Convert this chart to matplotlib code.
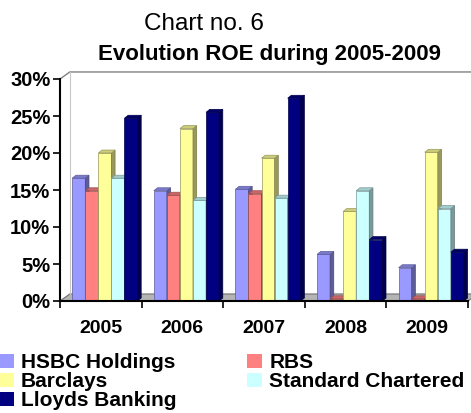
import matplotlib.pyplot as plt
from matplotlib.patches import Polygon, Patch
import matplotlib.colors as mcolors
import numpy as np

# chart data (ROE)
years = ['2005', '2006', '2007', '2008', '2009']
banks = ['HSBC Holdings', 'RBS', 'Barclays', 'Standard Chartered', 'Lloyds Banking']
hsbc = [0.166, 0.149, 0.151, 0.063, 0.045]
rbs = [0.149, 0.143, 0.145, 0.003, 0.003]
barclays = [0.200, 0.233, 0.193, 0.121, 0.201]
stanchart = [0.166, 0.136, 0.139, 0.149, 0.125]
lloyds = [0.247, 0.255, 0.274, 0.083, 0.066]
colors = ['#9999FF', '#FF8080', '#FFFF99', '#CCFFFF', '#000080']

series = [hsbc, rbs, barclays, stanchart, lloyds]

plt.rcParams['font.family'] = ['Liberation Sans', 'DejaVu Sans']

fig = plt.figure(figsize=(4.71, 4.13), dpi=100)
ax = fig.add_axes([60/471, 112/413, 408/471, 222/413])
ax.set_xlim(-0.5, 4.5)
ax.set_ylim(0, 0.30)

# 3d look: offsets of the back wall and of a bar's depth
wx, wy = 0.12, 0.0095
bx, by = 0.045, 0.004
w = 0.16
x = np.arange(len(years))

# floor
ax.add_patch(Polygon([(-0.5, 0), (4.5, 0), (4.5 + wx, wy), (-0.5 + wx, wy)],
                     closed=True, facecolor='#B4B4B4', edgecolor='#707070',
                     lw=0.8, zorder=1, clip_on=False))
# back wall outline
ax.plot([-0.5, -0.5 + wx, 4.5 + wx], [0.30, 0.30 + wy, 0.30 + wy],
        color='#808080', lw=1, clip_on=False, zorder=1)
ax.plot([-0.5 + wx, -0.5 + wx], [wy, 0.30 + wy], color='#C8C8C8', lw=0.8,
        clip_on=False, zorder=1)

for i, vals in enumerate(series):
    c = np.array(mcolors.to_rgb(colors[i]))
    side = c * 0.6
    top = c * 0.8
    xs = x + (i - 2) * w + 0.05
    bars = ax.bar(xs, vals, width=w, color=colors[i], zorder=3 + i,
                  edgecolor=side, linewidth=0.5)
    for b in bars:
        x0 = b.get_x()
        x1 = x0 + b.get_width()
        h = b.get_height()
        ax.add_patch(Polygon([(x1, 0), (x1 + bx, by), (x1 + bx, h + by), (x1, h)],
                             closed=True, facecolor=side, edgecolor=side * 0.8,
                             lw=0.5, zorder=3 + i, clip_on=False))
        ax.add_patch(Polygon([(x0, h), (x1, h), (x1 + bx, h + by), (x0 + bx, h + by)],
                             closed=True, facecolor=top, edgecolor=side,
                             lw=0.5, zorder=3 + i, clip_on=False))

ax.spines['top'].set_visible(False)
ax.spines['right'].set_visible(False)
ax.spines['left'].set_linewidth(1.5)
ax.spines['bottom'].set_linewidth(1.5)
ax.spines['left'].set_zorder(10)
ax.spines['bottom'].set_zorder(10)

ax.set_yticks(np.arange(0, 0.31, 0.05))
ax.set_yticklabels(['%d%%' % round(v * 100) for v in np.arange(0, 0.31, 0.05)],
                   fontsize=14.5, fontweight='bold')
ax.set_xticks(x)
ax.set_xticklabels(years, fontsize=14, fontweight='bold')
ax.set_xticks(np.arange(-0.5, 4.6, 1), minor=True)
ax.tick_params(axis='x', which='major', length=0, pad=14)
ax.tick_params(axis='x', which='minor', length=5, width=1.2, direction='out')
ax.tick_params(axis='y', length=5, width=1.2, direction='out', pad=2)

fig.text(0.433, 0.927, 'Chart no. 6', ha='center', va='baseline', fontsize=17.5)
fig.text(0.573, 0.855, 'Evolution ROE during 2005-2009', ha='center',
         va='baseline', fontsize=16, fontweight='bold')

order = [0, 2, 4, 1, 3]
handles = [Patch(facecolor=colors[k], edgecolor='none') for k in order]
labels = [banks[k] for k in order]
fig.legend(handles, labels, loc='upper left', bbox_to_anchor=(-0.002, 0.145),
           ncol=2, frameon=False, prop={'size': 15, 'weight': 'bold'},
           handlelength=0.7, handleheight=0.7, handletextpad=0.35,
           labelspacing=0.0, columnspacing=3.4, borderpad=0, borderaxespad=0)

fig.savefig('out.png', dpi=100)
